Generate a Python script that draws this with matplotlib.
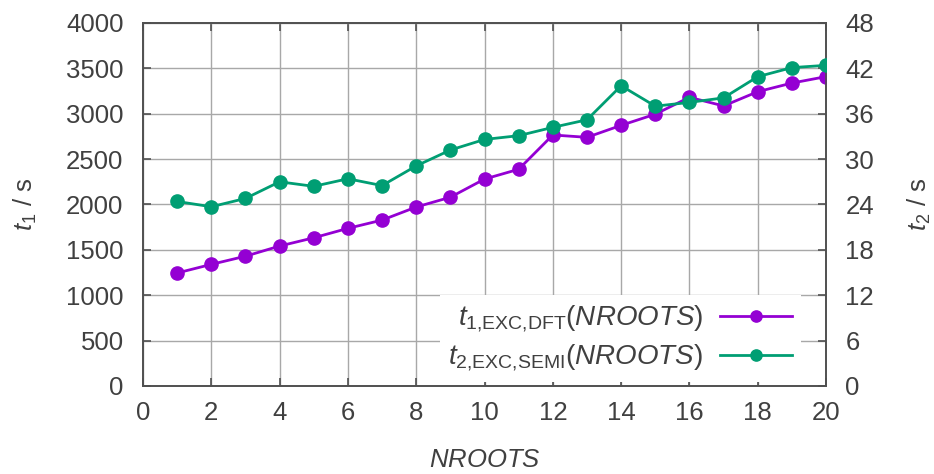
import numpy as np
import matplotlib
matplotlib.use("Agg")
import matplotlib.pyplot as plt

# data
nroots = list(range(1, 21))
t1_exc_dft = [1245, 1340, 1430, 1542, 1633, 1737, 1828, 1972, 2080, 2280,
              2388, 2766, 2740, 2872, 2995, 3181, 3086, 3243, 3338, 3409]
t2_exc_semi = [24.4, 23.7, 24.8, 27.0, 26.4, 27.4, 26.5, 29.1, 31.2, 32.6,
               33.1, 34.2, 35.2, 39.7, 37.0, 37.5, 38.1, 40.9, 42.1, 42.4]

xticks = list(range(0, 21, 2))
y1ticks = list(range(0, 4001, 500))
y2ticks = list(range(0, 49, 6))

TXT = '#404040'
FS = 18.5
plt.rcParams['font.family'] = ['Liberation Sans', 'DejaVu Sans']
plt.rcParams['mathtext.fontset'] = 'custom'
plt.rcParams['mathtext.rm'] = 'Liberation Sans'
plt.rcParams['mathtext.it'] = 'Liberation Sans:italic'
plt.rcParams['mathtext.bf'] = 'Liberation Sans:bold'
plt.rcParams['font.size'] = FS
plt.rcParams['text.color'] = TXT

fig = plt.figure(figsize=(9.34, 4.74), dpi=100)
ax = fig.add_axes([0.1531, 0.1857, 0.7313, 0.7658])
ax2 = ax.twinx()

ax.plot(nroots, t1_exc_dft, color='#9400D3', lw=2, marker='o', ms=9.5,
        label=r'$t_{1{,}\mathrm{EXC}{,}\mathrm{DFT}}(\mathit{NROOTS})$', zorder=3)
ax2.plot(nroots, t2_exc_semi, color='#009E73', lw=2, marker='o', ms=9.5,
         label=r'$t_{2{,}\mathrm{EXC}{,}\mathrm{SEMI}}(\mathit{NROOTS})$', zorder=3)

ax.set_xlim(0, 20)
ax.set_ylim(0, 4000)
ax2.set_ylim(0, 48)
ax.set_xticks(xticks)
ax.set_yticks(y1ticks)
ax2.set_yticks(y2ticks)

ax.grid(True, color='#a8a8a8', lw=1)
for a in (ax, ax2):
    for s in a.spines.values():
        s.set_color('#505050')
        s.set_linewidth(1.2)
    a.tick_params(direction='in', length=6, width=1.2, color='#505050',
                  labelcolor=TXT, labelsize=FS, pad=14)
ax.tick_params(axis='x', pad=11)
ax.tick_params(top=True, bottom=True, left=True, right=False)

ax.set_xlabel(r'$\mathit{NROOTS}$', fontsize=FS, color=TXT, va='center')
ax.xaxis.set_label_coords(0.5, -0.205)
ax.set_ylabel(r'$t_1$ / s', fontsize=FS, color=TXT, va='center')
ax.yaxis.set_label_coords(-0.172, 0.5)
ax2.set_ylabel(r'$t_2$ / s', fontsize=FS, color=TXT, va='center', rotation=90)
ax2.yaxis.set_label_coords(1.136, 0.5)

h1, l1 = ax.get_legend_handles_labels()
h2, l2 = ax2.get_legend_handles_labels()
leg = ax2.legend(h1 + h2, l1 + l2, loc='lower right',
                 bbox_to_anchor=(0.963, 0.012), markerfirst=False,
                 frameon=True, fancybox=False, edgecolor='none',
                 facecolor='white', framealpha=1, fontsize=20,
                 handlelength=2.6, labelspacing=0.3, borderaxespad=0,
                 borderpad=0.3, handletextpad=0.6, markerscale=0.85)

fig.savefig('out.png', dpi=100)
